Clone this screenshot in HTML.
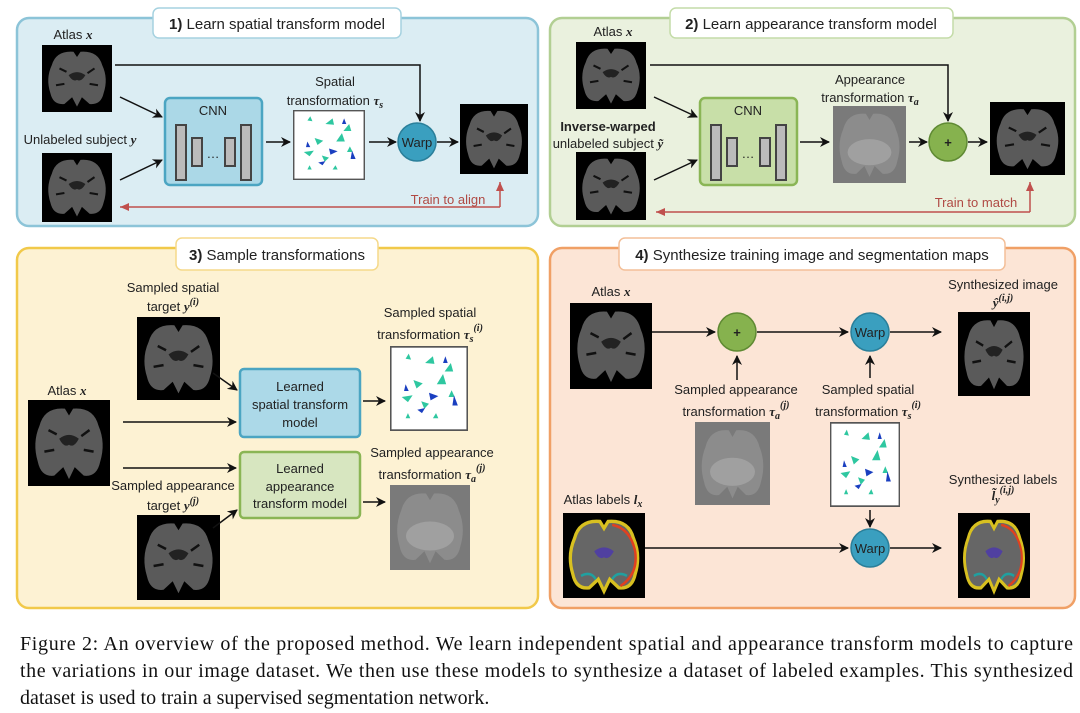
<!DOCTYPE html>
<html><head><meta charset="utf-8"><style>
html,body{margin:0;padding:0;background:#fff;}
svg{display:block;}
text{font-family:"Liberation Sans",sans-serif;font-size:13px;fill:#222;}
.t{font-size:15px;}
.cap{font-family:"Liberation Serif",serif;font-size:20px;fill:#111;}
.m{font-family:"Liberation Serif",serif;font-style:italic;font-weight:bold;}
</style></head><body>
<svg width="1080" height="713" viewBox="0 0 1080 713" xmlns="http://www.w3.org/2000/svg">
<defs>
<marker id="a" markerWidth="10" markerHeight="10" refX="9" refY="5" orient="auto" markerUnits="userSpaceOnUse"><path d="M0,0 L10,5 L0,10 L3,5z" fill="#111"/></marker>
<marker id="r" markerWidth="10" markerHeight="10" refX="9" refY="5" orient="auto" markerUnits="userSpaceOnUse"><path d="M0,1 L9,5 L0,9z" fill="#c0504d"/></marker>
<symbol id="brain" viewBox="0 0 100 100" preserveAspectRatio="none">
<rect width="100" height="100" fill="#000"/>
<path d="M14,30 Q20,8 45,10 L50,18 L55,10 Q80,8 86,30 Q95,50 88,72 Q84,90 68,88 L57,78 L50,92 L43,78 L32,88 Q16,90 12,72 Q5,50 14,30z" fill="#5a5a5a"/>
<path d="M38,45 Q50,36 62,45 Q56,56 50,52 Q44,56 38,45z" fill="#222"/>
<path d="M25,35 L35,40 M75,35 L65,42 M20,60 L32,58 M80,60 L68,58" stroke="#111" stroke-width="3"/>
</symbol>
<symbol id="brainL" viewBox="0 0 100 100" preserveAspectRatio="none">
<rect width="100" height="100" fill="#000"/>
<path d="M14,30 Q20,8 45,10 L50,18 L55,10 Q80,8 86,30 Q95,50 88,72 Q84,90 68,88 L57,78 L50,92 L43,78 L32,88 Q16,90 12,72 Q5,50 14,30z" fill="#666" stroke="#d8c020" stroke-width="4"/>
<path d="M60,14 Q82,18 88,45 Q92,72 70,86" fill="none" stroke="#e04020" stroke-width="3"/>
<path d="M38,45 Q50,36 62,45 Q56,56 50,52 Q44,56 38,45z" fill="#5040a0"/>
<path d="M22,74 Q34,68 40,78" fill="none" stroke="#20a0a0" stroke-width="3"/>
<path d="M60,78 Q66,68 78,74" fill="none" stroke="#20a0a0" stroke-width="3"/>
</symbol>
<symbol id="gray" viewBox="0 0 100 100" preserveAspectRatio="none">
<rect width="100" height="100" fill="#7a7a7a"/>
<path d="M14,30 Q20,8 45,10 L50,18 L55,10 Q80,8 86,30 Q95,50 88,72 Q84,90 68,88 L57,78 L50,92 L43,78 L32,88 Q16,90 12,72 Q5,50 14,30z" fill="#8c8c8c"/>
<ellipse cx="50" cy="60" rx="30" ry="17" fill="#a0a0a0"/>
</symbol>
<symbol id="field" viewBox="0 0 100 100" preserveAspectRatio="none">
<rect x="1" y="1" width="98" height="98" fill="#fff" stroke="#555" stroke-width="2"/>
<g fill="#2ec7a0"><path d="M20,15 l4,-6 l3,7z"/><path d="M45,20 l10,-8 l2,9z"/><path d="M70,30 l8,-10 l3,10z"/><path d="M30,40 l12,4 l-8,6z"/><path d="M60,45 l8,-12 l4,12z"/><path d="M15,60 l14,-2 l-6,8z"/><path d="M40,65 l10,3 l-6,6z"/><path d="M75,60 l4,-8 l4,8z"/><path d="M55,85 l4,-6 l3,6z"/><path d="M20,85 l3,-6 l3,6z"/></g>
<g fill="#1a3fc0"><path d="M50,55 l12,4 l-10,5z"/><path d="M20,45 l4,8 l-6,0z"/><path d="M80,70 l2,-12 l5,12z"/><path d="M35,75 l10,-2 l-4,6z"/><path d="M68,20 l3,-8 l3,8z"/></g>
</symbol>
</defs>

<rect x="17" y="18" width="521" height="208" rx="12" fill="#dbedf3" stroke="#8cc4d8" stroke-width="2.5"/>
<rect x="550" y="18" width="525" height="208" rx="12" fill="#eaf1de" stroke="#b2cf93" stroke-width="2.5"/>
<rect x="17" y="248" width="521" height="360" rx="12" fill="#fdf2d3" stroke="#f1c94a" stroke-width="2.5"/>
<rect x="550" y="248" width="525" height="360" rx="12" fill="#fce5d6" stroke="#f0a066" stroke-width="2.5"/>

<rect x="153" y="8" width="248" height="30" rx="6" fill="#fff" stroke="#a6d2e0" stroke-width="1.5"/>
<text x="277" y="29" class="t" text-anchor="middle"><tspan font-weight="bold">1)</tspan> Learn spatial transform model</text>
<rect x="670" y="8" width="283" height="30" rx="6" fill="#fff" stroke="#c4dca8" stroke-width="1.5"/>
<text x="811" y="29" class="t" text-anchor="middle"><tspan font-weight="bold">2)</tspan> Learn appearance transform model</text>
<rect x="176" y="238" width="202" height="32" rx="6" fill="#fff" stroke="#f5d98a" stroke-width="1.5"/>
<text x="277" y="260" class="t" text-anchor="middle"><tspan font-weight="bold">3)</tspan> Sample transformations</text>
<rect x="619" y="238" width="386" height="32" rx="6" fill="#fff" stroke="#f3bf98" stroke-width="1.5"/>
<text x="812" y="260" class="t" text-anchor="middle"><tspan font-weight="bold">4)</tspan> Synthesize training image and segmentation maps</text>

<!-- Panel 1 -->
<text x="73" y="39" text-anchor="middle">Atlas <tspan class="m">x</tspan></text>
<use href="#brain" x="42" y="45" width="70" height="67"/>
<text x="80" y="144" text-anchor="middle">Unlabeled subject <tspan class="m">y</tspan></text>
<use href="#brain" x="42" y="153" width="70" height="69"/>
<rect x="165" y="98" width="97" height="87" rx="5" fill="#abd8e7" stroke="#4ba5c2" stroke-width="2.5"/>
<text x="213" y="115" text-anchor="middle">CNN</text>
<rect x="176" y="125" width="10" height="55" fill="#bbb" stroke="#444" stroke-width="2"/>
<rect x="192" y="138" width="10" height="28" fill="#bbb" stroke="#444" stroke-width="2"/>
<text x="213" y="158" text-anchor="middle">…</text>
<rect x="225" y="138" width="10" height="28" fill="#bbb" stroke="#444" stroke-width="2"/>
<rect x="241" y="125" width="10" height="55" fill="#bbb" stroke="#444" stroke-width="2"/>
<text x="335" y="86" text-anchor="middle">Spatial</text>
<text x="335" y="105" text-anchor="middle">transformation <tspan class="m">τ<tspan font-size="10" dy="3">s</tspan></tspan></text>
<use href="#field" x="293" y="110" width="72" height="70"/>
<circle cx="417" cy="142" r="19" fill="#3a9fbf" stroke="#2a7f9a" stroke-width="1.5"/>
<text x="417" y="147" text-anchor="middle">Warp</text>
<use href="#brain" x="460" y="104" width="68" height="70"/>
<g stroke="#111" stroke-width="1.5" fill="none" marker-end="url(#a)">
<path d="M115,65 H420 V121"/>
<path d="M120,97 L162,117"/>
<path d="M120,180 L162,160"/>
<path d="M266,142 H290"/>
<path d="M369,142 H396"/>
<path d="M437,142 H458"/>
</g>
<path d="M500,207 V182" stroke="#c0504d" stroke-width="1.5" fill="none" marker-end="url(#r)"/>
<path d="M500,207 H120" stroke="#c0504d" stroke-width="1.5" fill="none" marker-end="url(#r)"/>
<text x="448" y="204" text-anchor="middle" style="fill:#b04a44">Train to align</text>

<!-- Panel 2 -->
<text x="613" y="36" text-anchor="middle">Atlas <tspan class="m">x</tspan></text>
<use href="#brain" x="576" y="42" width="70" height="67"/>
<text x="608" y="131" text-anchor="middle" font-weight="bold">Inverse-warped</text>
<text x="608" y="148" text-anchor="middle">unlabeled subject <tspan class="m">ỹ</tspan></text>
<use href="#brain" x="576" y="152" width="70" height="68"/>
<rect x="700" y="98" width="97" height="87" rx="5" fill="#c8dfa8" stroke="#8ab555" stroke-width="2.5"/>
<text x="748" y="115" text-anchor="middle">CNN</text>
<rect x="711" y="125" width="10" height="55" fill="#bbb" stroke="#444" stroke-width="2"/>
<rect x="727" y="138" width="10" height="28" fill="#bbb" stroke="#444" stroke-width="2"/>
<text x="748" y="158" text-anchor="middle">…</text>
<rect x="760" y="138" width="10" height="28" fill="#bbb" stroke="#444" stroke-width="2"/>
<rect x="776" y="125" width="10" height="55" fill="#bbb" stroke="#444" stroke-width="2"/>
<text x="870" y="84" text-anchor="middle">Appearance</text>
<text x="870" y="102" text-anchor="middle">transformation <tspan class="m">τ<tspan font-size="10" dy="3">a</tspan></tspan></text>
<use href="#gray" x="833" y="106" width="73" height="77"/>
<circle cx="948" cy="142" r="19" fill="#86b24e" stroke="#5f8a33" stroke-width="1.5"/>
<text x="948" y="147" text-anchor="middle" font-weight="bold">+</text>
<use href="#brain" x="990" y="102" width="75" height="73"/>
<g stroke="#111" stroke-width="1.5" fill="none" marker-end="url(#a)">
<path d="M650,65 H948 V121"/>
<path d="M654,97 L697,117"/>
<path d="M654,180 L697,160"/>
<path d="M800,142 H829"/>
<path d="M909,142 H927"/>
<path d="M968,142 H987"/>
</g>
<path d="M1030,212 V182" stroke="#c0504d" stroke-width="1.5" fill="none" marker-end="url(#r)"/>
<path d="M1030,212 H656" stroke="#c0504d" stroke-width="1.5" fill="none" marker-end="url(#r)"/>
<text x="976" y="207" text-anchor="middle" style="fill:#b04a44">Train to match</text>

<!-- Panel 3 -->
<text x="173" y="292" text-anchor="middle">Sampled spatial</text>
<text x="173" y="311" text-anchor="middle">target <tspan class="m">y<tspan font-size="10" dy="-6">(i)</tspan></tspan></text>
<use href="#brain" x="137" y="317" width="83" height="83"/>
<text x="67" y="395" text-anchor="middle">Atlas <tspan class="m">x</tspan></text>
<use href="#brain" x="28" y="400" width="82" height="86"/>
<text x="173" y="490" text-anchor="middle">Sampled appearance</text>
<text x="173" y="510" text-anchor="middle">target <tspan class="m">y<tspan font-size="10" dy="-6">(j)</tspan></tspan></text>
<use href="#brain" x="137" y="515" width="83" height="85"/>
<rect x="240" y="369" width="120" height="68" rx="4" fill="#acd9e8" stroke="#4ba5c2" stroke-width="2.5"/>
<text x="300" y="391" text-anchor="middle">Learned</text>
<text x="300" y="409" text-anchor="middle">spatial transform</text>
<text x="300" y="427" text-anchor="middle">model</text>
<rect x="240" y="452" width="120" height="66" rx="4" fill="#d7e6c0" stroke="#8ab555" stroke-width="2.5"/>
<text x="300" y="473" text-anchor="middle">Learned</text>
<text x="300" y="491" text-anchor="middle">appearance</text>
<text x="300" y="508" text-anchor="middle">transform model</text>
<text x="430" y="317" text-anchor="middle">Sampled spatial</text>
<text x="430" y="339" text-anchor="middle">transformation <tspan class="m">τ<tspan font-size="10" dy="3">s</tspan><tspan font-size="10" dy="-11">(i)</tspan></tspan></text>
<use href="#field" x="390" y="346" width="78" height="85"/>
<text x="432" y="457" text-anchor="middle">Sampled appearance</text>
<text x="432" y="479" text-anchor="middle">transformation <tspan class="m">τ<tspan font-size="10" dy="3">a</tspan><tspan font-size="10" dy="-11">(j)</tspan></tspan></text>
<use href="#gray" x="390" y="485" width="80" height="85"/>
<g stroke="#111" stroke-width="1.5" fill="none" marker-end="url(#a)">
<path d="M213,373 L237,390"/>
<path d="M123,422 H236"/>
<path d="M123,468 H236"/>
<path d="M213,528 L237,510"/>
<path d="M363,401 H385"/>
<path d="M363,502 H385"/>
</g>

<!-- Panel 4 -->
<text x="611" y="296" text-anchor="middle">Atlas <tspan class="m">x</tspan></text>
<use href="#brain" x="570" y="303" width="82" height="86"/>
<circle cx="737" cy="332" r="19" fill="#86b24e" stroke="#5f8a33" stroke-width="1.5"/>
<text x="737" y="337" text-anchor="middle" font-weight="bold">+</text>
<circle cx="870" cy="332" r="19" fill="#3a9fbf" stroke="#2a7f9a" stroke-width="1.5"/>
<text x="870" y="337" text-anchor="middle">Warp</text>
<text x="1003" y="289" text-anchor="middle">Synthesized image</text>
<text x="1003" y="307" text-anchor="middle"><tspan class="m">ŷ<tspan font-size="10" dy="-6">(i,j)</tspan></tspan></text>
<use href="#brain" x="958" y="312" width="72" height="84"/>
<text x="736" y="394" text-anchor="middle">Sampled appearance</text>
<text x="736" y="416" text-anchor="middle">transformation <tspan class="m">τ<tspan font-size="10" dy="3">a</tspan><tspan font-size="10" dy="-11">(j)</tspan></tspan></text>
<use href="#gray" x="695" y="422" width="75" height="83"/>
<text x="868" y="394" text-anchor="middle">Sampled spatial</text>
<text x="868" y="416" text-anchor="middle">transformation <tspan class="m">τ<tspan font-size="10" dy="3">s</tspan><tspan font-size="10" dy="-11">(i)</tspan></tspan></text>
<use href="#field" x="830" y="422" width="70" height="85"/>
<circle cx="870" cy="548" r="19" fill="#3a9fbf" stroke="#2a7f9a" stroke-width="1.5"/>
<text x="870" y="553" text-anchor="middle">Warp</text>
<text x="603" y="504" text-anchor="middle">Atlas labels <tspan class="m">l<tspan font-size="10" dy="3">x</tspan></tspan></text>
<use href="#brainL" x="563" y="513" width="82" height="85"/>
<text x="1003" y="484" text-anchor="middle">Synthesized labels</text>
<text x="1003" y="500" text-anchor="middle"><tspan class="m">l̃<tspan font-size="10" dy="3">y</tspan><tspan font-size="10" dy="-10">(i,j)</tspan></tspan></text>
<use href="#brainL" x="958" y="513" width="72" height="85"/>
<g stroke="#111" stroke-width="1.5" fill="none" marker-end="url(#a)">
<path d="M652,332 H715"/>
<path d="M757,332 H848"/>
<path d="M890,332 H941"/>
<path d="M737,380 V356"/>
<path d="M870,378 V356"/>
<path d="M870,510 V527"/>
<path d="M645,548 H848"/>
<path d="M890,548 H941"/>
</g>

<text x="20" y="650" class="cap" textLength="1053" lengthAdjust="spacing">Figure 2: An overview of the proposed method. We learn independent spatial and appearance transform models to capture</text>
<text x="20" y="677" class="cap" textLength="1053" lengthAdjust="spacing">the variations in our image dataset. We then use these models to synthesize a dataset of labeled examples. This synthesized</text>
<text x="20" y="704" class="cap">dataset is used to train a supervised segmentation network.</text>
</svg>
</body></html>
